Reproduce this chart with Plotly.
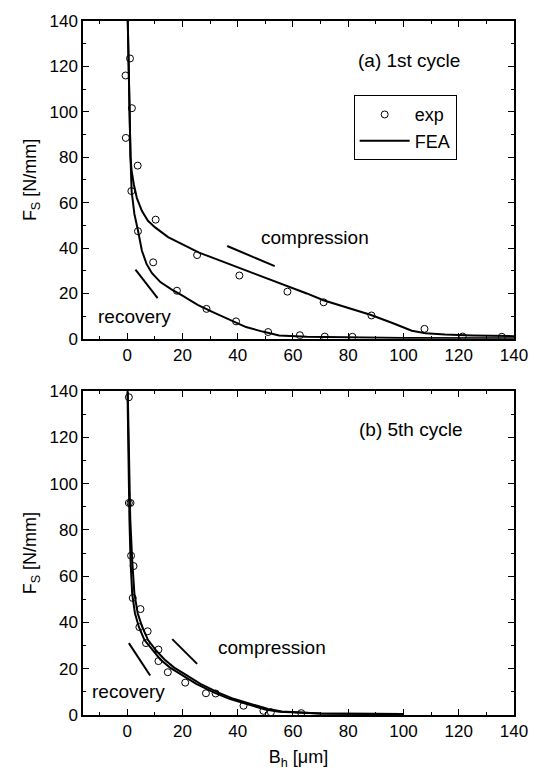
import plotly.graph_objects as go

# ---------------- data: (a) 1st cycle ----------------
a_exp_x = [-0.6, 1.0, 1.7, -0.5, 3.8, 1.5, 10.3, 3.9, 9.4, 25.3, 18.0, 28.7, 40.6, 39.4,
           51.0, 58.0, 71.1, 88.4, 107.6, 62.5, 71.5, 81.5, 121.4, 135.6]
a_exp_y = [116, 123.5, 101.6, 88.5, 76.3, 65.1, 52.5, 47.4, 33.7, 36.9, 21.2, 13.2, 27.9, 7.7,
           3.0, 20.8, 16.1, 10.3, 4.4, 1.6, 1.0, 0.9, 1.0, 0.9]

a_comp_x = [0.2, 0.5, 0.8, 1.2, 1.6, 2.4, 3.5, 5.3, 7.5, 10.1, 14.8, 20, 26, 32, 38, 44, 50,
            58, 65, 71, 80, 88, 96, 103, 108, 115, 125, 140]
a_comp_y = [140, 120, 100, 80, 74, 68, 62, 56.4, 52, 49.1, 44.8, 41.5, 38, 35.2, 32.5, 29.6,
            26.8, 23.2, 20, 17, 13.5, 10.6, 7, 3.6, 2.5, 1.9, 1.5, 1.2]

a_rec_x = [0.2, 0.5, 0.8, 1.2, 1.6, 2.6, 3.9, 5.3, 7, 8.9, 12, 16, 20, 25.5, 31, 37.4, 43, 49,
           55, 65, 80, 100, 140]
a_rec_y = [140, 120, 100, 80, 65, 55, 47.7, 38.9, 33, 29, 25, 21.8, 19, 15, 11.8, 8.4, 5.2,
           3.2, 1.5, 0.9, 0.6, 0.4, 0.3]

a_recov_arrow_x = [3.0, 11.0]
a_recov_arrow_y = [30.5, 17.9]
a_comp_arrow_x = [36.2, 53.4]
a_comp_arrow_y = [40.9, 32.0]

# ---------------- data: (b) 5th cycle ----------------
b_exp_x = [0.6, 0.6, 1.2, 1.4, 2.3, 2.0, 4.8, 4.4, 7.4, 6.8, 11.3, 11.3, 14.7, 21.0, 28.5,
           32.0, 42.1, 49.3, 52.0, 63.0]
b_exp_y = [137.4, 91.7, 91.7, 68.9, 64.4, 50.6, 45.8, 38.0, 36.2, 31.1, 28.3, 23.3, 18.5,
           14.0, 9.4, 9.3, 4.0, 1.8, 1.2, 0.8]

b_rec_x = [0.1, 0.4, 0.8, 1.2, 1.8, 2.8, 4.2, 6.2, 8.9, 12, 15.5, 19.6, 25, 31.5, 37, 43.3,
           50, 55, 62, 70, 80, 100]
b_rec_y = [140, 110, 85, 67, 52.5, 44, 38.2, 32.5, 28.3, 24, 20.5, 17.6, 13.5, 9.7, 7, 4.7,
           2.4, 1.4, 0.9, 0.6, 0.5, 0.4]

b_comp_x = [0.2, 0.6, 1.1, 1.8, 2.6, 3.8, 5.4, 7.5, 10.2, 13.5, 17, 21, 26.5, 33, 38.5, 45,
            51, 56, 63, 70, 80, 100]
b_comp_y = [140, 110, 85, 67, 52.5, 44, 38.2, 32.5, 28.3, 24, 20.5, 17.6, 13.5, 9.7, 7, 4.7,
            2.6, 1.5, 1.0, 0.7, 0.5, 0.4]

b_recov_arrow_x = [0.6, 8.3]
b_recov_arrow_y = [31.1, 17.1]
b_comp_arrow_x = [16.3, 25.3]
b_comp_arrow_y = [32.8, 22.1]

x_ticks = [0, 20, 40, 60, 80, 100, 120, 140]
y_ticks = [0, 20, 40, 60, 80, 100, 120, 140]

FONT = "Liberation Sans, Arial, sans-serif"
fig = go.Figure()

marker = dict(symbol="circle-open", size=7, color="black", line=dict(width=1, color="black"))
fea_line = dict(color="black", width=2)

# top panel
fig.add_trace(go.Scatter(x=a_exp_x, y=a_exp_y, mode="markers", marker=marker, name="exp",
                         xaxis="x", yaxis="y", showlegend=True))
fig.add_trace(go.Scatter(x=a_comp_x, y=a_comp_y, mode="lines", line=fea_line, name="FEA",
                         xaxis="x", yaxis="y", showlegend=True))
fig.add_trace(go.Scatter(x=a_rec_x, y=a_rec_y, mode="lines", line=fea_line, name="FEA",
                         xaxis="x", yaxis="y", showlegend=False))
for ax_, ay_ in [(a_recov_arrow_x, a_recov_arrow_y), (a_comp_arrow_x, a_comp_arrow_y)]:
    fig.add_trace(go.Scatter(x=ax_, y=ay_, mode="lines", line=dict(color="black", width=2),
                             xaxis="x", yaxis="y", showlegend=False, hoverinfo="skip"))

# bottom panel
fig.add_trace(go.Scatter(x=b_exp_x, y=b_exp_y, mode="markers", marker=marker, name="exp",
                         xaxis="x2", yaxis="y2", showlegend=False))
fig.add_trace(go.Scatter(x=b_comp_x, y=b_comp_y, mode="lines", line=fea_line, name="FEA",
                         xaxis="x2", yaxis="y2", showlegend=False))
fig.add_trace(go.Scatter(x=b_rec_x, y=b_rec_y, mode="lines", line=fea_line, name="FEA",
                         xaxis="x2", yaxis="y2", showlegend=False))
for ax_, ay_ in [(b_recov_arrow_x, b_recov_arrow_y), (b_comp_arrow_x, b_comp_arrow_y)]:
    fig.add_trace(go.Scatter(x=ax_, y=ay_, mode="lines", line=dict(color="black", width=2),
                             xaxis="x2", yaxis="y2", showlegend=False, hoverinfo="skip"))

axis_common = dict(
    showgrid=False, zeroline=False, showline=True, linecolor="black", linewidth=1.5,
    mirror="ticks", ticks="inside", ticklen=6, tickwidth=1.2, tickcolor="black",
    tickfont=dict(family=FONT, size=17, color="black"),
    minor=dict(ticks="inside", ticklen=3, tickwidth=1, tickcolor="black"),
)

xax = dict(axis_common, range=[-16, 140], tickvals=x_ticks, ticktext=[str(v) for v in x_ticks])
xax["minor"] = dict(axis_common["minor"], dtick=10, tick0=0)
yax = dict(axis_common, range=[0, 140], tickvals=y_ticks, ticktext=[str(v) for v in y_ticks])
yax["minor"] = dict(axis_common["minor"], dtick=10, tick0=0)

ytitle = dict(text="F<sub>S</sub> [N/mm]", font=dict(family=FONT, size=18, color="black"),
              standoff=8)

fig.update_layout(
    width=540, height=776,
    margin=dict(l=83, r=19, t=15, b=60),
    paper_bgcolor="white", plot_bgcolor="white",
    font=dict(family=FONT, color="black"),
    xaxis=dict(xax, domain=[0, 1], anchor="y"),
    yaxis=dict(yax, domain=[0.542, 1], anchor="x", title=ytitle),
    xaxis2=dict(xax, domain=[0, 1], anchor="y2",
                title=dict(text="B<sub>h</sub> [μm]", font=dict(family=FONT, size=18, color="black"),
                           standoff=10)),
    yaxis2=dict(yax, domain=[0, 0.4665], anchor="x2", title=ytitle),
    legend=dict(x=0.628, y=0.893, xanchor="left", yanchor="top", bordercolor="black",
                borderwidth=1, bgcolor="white", itemwidth=50,
                font=dict(family=FONT, size=18, color="black"), tracegroupgap=0),
    showlegend=True,
)

ann_font = dict(family=FONT, size=19, color="black")
annotations = [
    dict(x=102.1, y=122.5, xref="x", yref="y", text="(a) 1st cycle"),
    dict(x=68.1, y=44.8, xref="x", yref="y", text="compression"),
    dict(x=2.8, y=9.9, xref="x", yref="y", text="recovery"),
    dict(x=102.6, y=123.6, xref="x2", yref="y2", text="(b) 5th cycle"),
    dict(x=52.5, y=29.0, xref="x2", yref="y2", text="compression"),
    dict(x=0.6, y=10.0, xref="x2", yref="y2", text="recovery"),
]
for a in annotations:
    a.update(showarrow=False, font=ann_font, xanchor="center", yanchor="middle")
fig.update_layout(annotations=annotations)

fig.write_html("out.html")
